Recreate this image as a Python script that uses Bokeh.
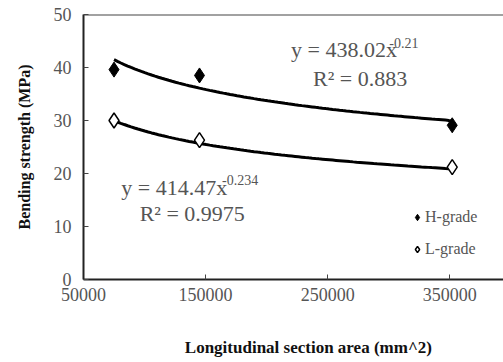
import numpy as np
from bokeh.plotting import figure
from bokeh.models import Span, Label, Legend, LegendItem, FixedTicker
from bokeh.embed import file_html
from bokeh.resources import INLINE

# Data
area = [75000, 145000, 352000]
h_grade = [39.6, 38.5, 29.1]
l_grade = [30.0, 26.3, 21.2]

# trend line coefficients (power fit shown on chart)
h_a, h_b = 438.02, -0.21
l_a, l_b = 414.47, -0.234

x_ticks = [50000, 150000, 250000, 350000]
y_ticks = [0, 10, 20, 30, 40, 50]

FONT = "'Liberation Serif', 'DejaVu Serif', serif"
TXT = "#555555"

p = figure(width=503, height=362, output_backend="svg", toolbar_location=None,
           x_range=(50000, 394000), y_range=(0, 50),
           min_border_left=83, min_border_right=0, min_border_top=14, min_border_bottom=83)
p.outline_line_color = None
p.grid.visible = False
p.background_fill_color = "white"

# trend lines
xs = np.linspace(min(area), max(area), 100)
p.line(xs, h_a * xs ** h_b, line_color="black", line_width=3)
p.line(xs, l_a * xs ** l_b, line_color="black", line_width=3)

hr = p.scatter(area, h_grade, marker="diamond", size=15, fill_color="black", line_color="black")
lr = p.scatter(area, l_grade, marker="diamond", size=15, fill_color="white", line_color="black", line_width=1.5)

# top border
p.add_layout(Span(location=50, dimension="width", line_color="#444444", line_width=2))

# axes
p.xaxis.ticker = FixedTicker(ticks=x_ticks)
p.yaxis.ticker = FixedTicker(ticks=y_ticks)
for ax in (p.xaxis, p.yaxis):
    ax.axis_line_width = 2
    ax.axis_line_color = "#222222"
    ax.major_tick_in = 5
    ax.major_tick_out = 0
    ax.minor_tick_line_color = None
    ax.major_tick_line_color = "#444444"
    ax.major_label_text_font = FONT
    ax.major_label_text_font_size = "18px"
    ax.major_label_text_color = TXT
    ax.axis_label_text_font = FONT
    ax.axis_label_text_font_style = "bold"
    ax.axis_label_text_color = "#111111"
p.xaxis.major_label_standoff = 8
p.yaxis.major_label_standoff = 12
p.xaxis.formatter.use_scientific = False

p.yaxis.axis_label = "Bending strength (MPa)"
p.yaxis.axis_label_text_font_size = "16px"
p.yaxis.axis_label_standoff = 18

p.xaxis.axis_label = "\u00a0" * 7 + "Longitudinal section area (mm^2)"
p.xaxis.axis_label_text_font_size = "17px"
p.xaxis.axis_label_standoff = 34

def lab(x, y, t, size="22px"):
    p.add_layout(Label(x=x, y=y, text=t, text_font=FONT, text_font_size=size,
                       text_color=TXT, text_baseline="middle", text_align="left"))

lab(220000, 43.4, "y = 438.02x")
lab(300500, 44.7, "-0.21", "14px")
lab(238000, 37.9, "R² = 0.883")
lab(81000, 17.4, "y = 414.47x")
lab(163500, 18.8, "-0.234", "14px")
lab(96000, 12.4, "R² = 0.9975")

legend = Legend(items=[LegendItem(label="H-grade", renderers=[hr]),
                       LegendItem(label="L-grade", renderers=[lr])],
                location=(326, 20), border_line_color=None, background_fill_alpha=0,
                glyph_width=16, glyph_height=20, spacing=12, padding=0, margin=0,
                label_standoff=0, label_text_font=FONT, label_text_font_size="16px",
                label_text_color=TXT)
p.add_layout(legend)

open("out.html", "w").write(file_html(p, INLINE))
